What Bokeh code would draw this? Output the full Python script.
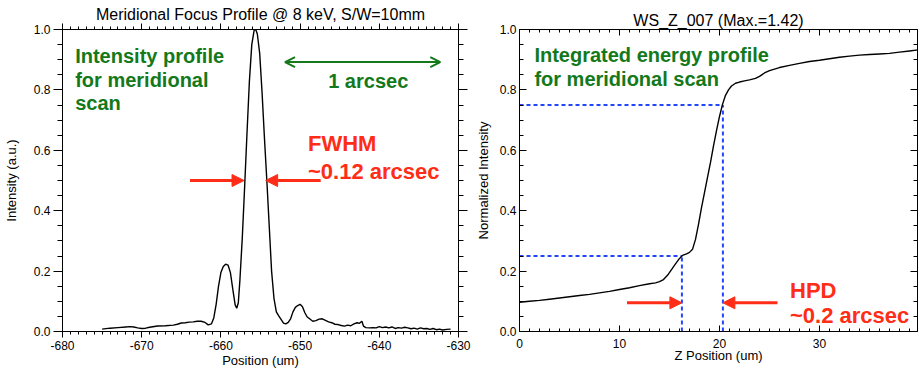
from bokeh.plotting import figure
from bokeh.models import (Range1d, LinearAxis, SingleIntervalTicker, PrintfTickFormatter,
                          Label, Arrow, NormalHead, OpenHead, CustomLabelingPolicy)
from bokeh.layouts import row
from bokeh.embed import file_html
from bokeh.resources import INLINE

# ---------------- data ----------------
left_title = "Meridional Focus Profile @ 8 keV, S/W=10mm"
right_title = "WS_Z_007 (Max.=1.42)"
left_xlabel = "Position (um)"
left_ylabel = "Intensity (a.u.)"
right_xlabel = "Z Position (um)"
right_ylabel = "Normalized Intensity"

position = [-675.0, -674.0, -673.0, -672.0, -671.5, -671.0, -670.5, -670.0, -669.5, -669.0,
            -668.0, -667.0, -666.0, -665.5, -665.0, -664.5, -664.0, -663.5, -663.0, -662.5,
            -662.0, -661.6, -661.2, -660.9, -660.6, -660.3, -660.0, -659.7, -659.4, -659.1,
            -658.8, -658.5, -658.2, -658.0, -657.8, -657.6, -657.3, -657.0, -656.7, -656.4,
            -656.1, -655.8, -655.6, -655.4, -655.1, -654.8, -654.5, -654.2, -653.9, -653.6,
            -653.3, -653.0, -652.7, -652.4, -652.1, -651.8, -651.5, -651.2, -650.9, -650.6,
            -650.3, -650.0, -649.7, -649.4, -649.1, -648.8, -648.4, -648.0, -647.6, -647.2,
            -646.8, -646.4, -646.0, -645.6, -645.2, -644.8, -644.4, -644.0, -643.6, -643.2,
            -642.8, -642.5, -642.2, -642.0, -641.7, -641.2, -640.8, -640.4, -640.0, -639.6,
            -639.2, -638.8, -638.4, -638.0, -637.6, -637.2, -636.8, -636.4, -636.0, -635.6,
            -635.2, -634.8, -634.4, -634.0, -633.6, -633.2, -632.8, -632.4, -632.0, -631.5,
            -631.0]
intensity = [0.008, 0.011, 0.013, 0.015, 0.016, 0.015, 0.012, 0.010, 0.011, 0.014,
             0.018, 0.019, 0.021, 0.024, 0.028, 0.029, 0.031, 0.032, 0.034, 0.034,
             0.030, 0.022, 0.025, 0.045, 0.090, 0.150, 0.195, 0.215, 0.223, 0.220,
             0.195, 0.140, 0.088, 0.077, 0.095, 0.170, 0.310, 0.480, 0.660, 0.830,
             0.950, 0.998, 1.000, 0.985, 0.920, 0.790, 0.640, 0.500, 0.350, 0.200,
             0.110, 0.065, 0.052, 0.040, 0.028, 0.025, 0.030, 0.042, 0.065, 0.080,
             0.086, 0.090, 0.082, 0.062, 0.048, 0.042, 0.034, 0.036, 0.041, 0.042,
             0.037, 0.032, 0.029, 0.024, 0.023, 0.020, 0.018, 0.021, 0.019, 0.025,
             0.029, 0.027, 0.034, 0.018, 0.013, 0.012, 0.013, 0.012, 0.016, 0.013,
             0.015, 0.012, 0.015, 0.010, 0.013, 0.011, 0.014, 0.012, 0.009, 0.011,
             0.008, 0.012, 0.009, 0.010, 0.007, 0.010, 0.006, 0.008, 0.005, 0.007,
             0.008]

z_position = [0.0, 1.0, 2.0, 3.0, 4.0, 5.0, 6.0, 7.0, 8.0, 9.0, 10.0, 11.0, 12.0, 13.0,
              13.6, 14.0, 14.4, 14.8, 15.2, 15.6, 16.0, 16.3, 16.7, 17.0, 17.3, 17.6,
              17.9, 18.2, 18.5, 18.8, 19.1, 19.4, 19.7, 20.0, 20.3, 20.6, 20.9, 21.2,
              21.6, 22.0, 22.5, 23.0, 23.6, 24.0, 24.5, 25.0, 25.5, 26.0, 27.0, 28.0,
              29.0, 30.0, 31.0, 32.0, 33.0, 34.0, 35.0, 36.0, 37.0, 38.0, 39.0, 40.0]
norm_intensity = [0.097, 0.100, 0.103, 0.107, 0.111, 0.115, 0.119, 0.123, 0.128, 0.133,
                  0.139, 0.145, 0.152, 0.158, 0.161, 0.165, 0.172, 0.186, 0.205, 0.224,
                  0.242, 0.252, 0.257, 0.262, 0.272, 0.305, 0.355, 0.410, 0.460, 0.510,
                  0.560, 0.615, 0.665, 0.712, 0.752, 0.782, 0.800, 0.813, 0.822, 0.826,
                  0.830, 0.833, 0.838, 0.845, 0.856, 0.864, 0.869, 0.874, 0.881, 0.888,
                  0.894, 0.898, 0.903, 0.908, 0.912, 0.915, 0.917, 0.919, 0.921, 0.925,
                  0.929, 0.933]

hpd_levels = [0.25, 0.75]
hpd_z = [16.24, 20.34]

# ---------------- style ----------------
FONT = "Liberation Sans"
GREEN = "#13791a"
RED = "#ff2d17"
BLUE = "#2345ff"


def style_axis(ax, major_out, major_in, minor_out, minor_in, labels=True, standoff=2):
    ax.major_tick_out = major_out
    ax.major_tick_in = major_in
    ax.minor_tick_out = minor_out
    ax.minor_tick_in = minor_in
    ax.axis_line_color = "black"
    ax.major_tick_line_color = "black"
    ax.minor_tick_line_color = "black"
    ax.major_label_text_font = FONT
    ax.major_label_text_color = "black"
    ax.major_label_standoff = standoff
    if labels:
        ax.major_label_text_font_size = "12px"
    else:
        ax.major_label_text_font_size = "1px"
        ax.major_label_policy = CustomLabelingPolicy(code="return []")
    ax.axis_label_text_font = FONT
    ax.axis_label_text_font_size = "13px"
    ax.axis_label_text_font_style = "normal"
    ax.axis_label_text_color = "black"


def make_fig(width, xr, bl, br, title):
    p = figure(width=width, height=370, x_range=Range1d(*xr), y_range=Range1d(0, 1.0),
               output_backend="svg", toolbar_location=None,
               min_border_left=bl, min_border_right=br, min_border_top=29, min_border_bottom=38)
    p.xgrid.visible = False
    p.ygrid.visible = False
    p.outline_line_color = None
    p.background_fill_color = "white"
    p.border_fill_color = "white"
    p.title.text = title
    p.title.align = "center"
    p.title.text_font = FONT
    p.title.text_font_size = "16px"
    p.title.text_font_style = "normal"
    p.title.text_color = "black"
    p.title.standoff = -6
    return p


def label(p, x, y, text, size, color="black", bold=False, align="left"):
    p.add_layout(Label(x=x, y=y, text=text, text_font=FONT, text_font_size=size,
                       text_color=color, text_font_style="bold" if bold else "normal",
                       text_align=align, text_baseline="alphabetic"))


# ---------------- left panel ----------------
p1 = make_fig(471, (-680, -630), 60, 10, left_title)
p1.xaxis.ticker = SingleIntervalTicker(interval=10, num_minor_ticks=10)
p1.xaxis.formatter = PrintfTickFormatter(format="%d")
p1.yaxis.ticker = SingleIntervalTicker(interval=0.2, num_minor_ticks=4)
p1.yaxis.formatter = PrintfTickFormatter(format="%.1f")
style_axis(p1.xaxis[0], 6, 0, 3, 0, standoff=3)
style_axis(p1.yaxis[0], 9, 0, 5, 0, standoff=3)
p1.xaxis.axis_label = left_xlabel
p1.xaxis.axis_label_standoff = 0
p1.yaxis.axis_label = left_ylabel
p1.yaxis.axis_label_standoff = 12

top1 = LinearAxis(ticker=SingleIntervalTicker(interval=10, num_minor_ticks=10))
style_axis(top1, 6, 0, 3, 0, labels=False, standoff=0)
p1.add_layout(top1, "above")
right1 = LinearAxis(ticker=SingleIntervalTicker(interval=0.2, num_minor_ticks=4))
style_axis(right1, 9, 0, 5, 0, labels=False, standoff=0)
p1.add_layout(right1, "right")

p1.line(position, intensity, line_color="black", line_width=1.4)

for yy, t in zip([0.911, 0.834, 0.757], ["Intensity profile", "for meridional", "scan"]):
    label(p1, -678.4, yy, t, "20px", GREEN, bold=True)
label(p1, -641.4, 0.829, "1 arcsec", "20px", GREEN, bold=True, align="center")
p1.add_layout(Arrow(x_start=-651.9, y_start=0.892, x_end=-632.3, y_end=0.892,
                    line_color=GREEN, line_width=2,
                    start=OpenHead(size=10, line_color=GREEN, line_width=2),
                    end=OpenHead(size=10, line_color=GREEN, line_width=2)))
label(p1, -649.0, 0.623, "FWHM", "22px", RED, bold=True)
label(p1, -649.0, 0.529, "~0.12 arcsec", "22px", RED, bold=True)
for xs, xe in [(-663.9, -657.08), (-647.4, -654.35)]:
    p1.add_layout(Arrow(x_start=xs, y_start=0.5, x_end=xe, y_end=0.5,
                        line_color=RED, line_width=3,
                        end=NormalHead(size=12, fill_color=RED, line_color=RED)))

# ---------------- right panel ----------------
p2 = make_fig(450, (0, 39.8), 48, 1, right_title)
p2.xaxis.ticker = SingleIntervalTicker(interval=10, num_minor_ticks=10)
p2.xaxis.formatter = PrintfTickFormatter(format="%d")
p2.yaxis.ticker = SingleIntervalTicker(interval=0.2, num_minor_ticks=4)
p2.yaxis.formatter = PrintfTickFormatter(format="%.1f")
style_axis(p2.xaxis[0], 0, 6, 0, 3, standoff=7)
style_axis(p2.yaxis[0], 0, 7, 0, 4, standoff=3)
p2.xaxis.axis_label = right_xlabel
p2.xaxis.axis_label_standoff = -3
p2.yaxis.axis_label = right_ylabel
p2.yaxis.axis_label_standoff = 6

top2 = LinearAxis(ticker=SingleIntervalTicker(interval=10, num_minor_ticks=10))
style_axis(top2, 0, 6, 0, 3, labels=False, standoff=0)
p2.add_layout(top2, "above")
right2 = LinearAxis(ticker=SingleIntervalTicker(interval=0.2, num_minor_ticks=4))
style_axis(right2, 0, 7, 0, 4, labels=False, standoff=0)
p2.add_layout(right2, "right")

# HPD guide lines
p2.segment(x0=[0, 0], y0=hpd_levels, x1=hpd_z, y1=hpd_levels,
           line_color=BLUE, line_width=2, line_dash="4 3")
p2.segment(x0=hpd_z, y0=[0, 0], x1=hpd_z, y1=hpd_levels,
           line_color=BLUE, line_width=2, line_dash="4 3")

p2.line(z_position, norm_intensity, line_color="black", line_width=1.4)

for yy, t in zip([0.914, 0.837], ["Integrated energy profile", "for meridional scan"]):
    label(p2, 1.49, yy, t, "20px", GREEN, bold=True)
label(p2, 27.05, 0.136, "HPD", "22px", RED, bold=True)
label(p2, 27.05, 0.053, "~0.2 arcsec", "22px", RED, bold=True)
for xs, xe in [(10.75, hpd_z[0]), (25.8, hpd_z[1])]:
    p2.add_layout(Arrow(x_start=xs, y_start=0.095, x_end=xe, y_end=0.095,
                        line_color=RED, line_width=3,
                        end=NormalHead(size=12, fill_color=RED, line_color=RED)))

layout = row(p1, p2)
open("out.html", "w").write(file_html(layout, INLINE))
